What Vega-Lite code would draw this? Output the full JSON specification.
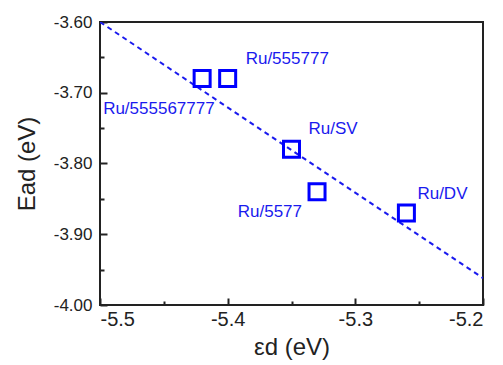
{
  "$schema": "https://vega.github.io/schema/vega-lite/v6.json",
  "width": 383,
  "height": 283,
  "autosize": "none",
  "padding": {"left": 100, "top": 22, "right": 20, "bottom": 60},
  "background": "white",
  "config": {
    "font": "Liberation Sans",
    "view": {"stroke": "#222222", "strokeWidth": 2},
    "axis": {
      "domain": false,
      "tickColor": "#222222",
      "tickWidth": 2,
      "tickCap": "butt",
      "grid": false,
      "offset": -7,
      "labelColor": "#222222",
      "titleColor": "#222222",
      "titleFontWeight": "normal",
      "titleFont": "Liberation Sans",
      "labelFont": "Liberation Sans"
    }
  },
  "datasets": {
    "pts": [
      {"name": "Ru/555567777", "ed": -5.42, "ead": -3.68},
      {"name": "Ru/555777", "ed": -5.40, "ead": -3.68},
      {"name": "Ru/SV", "ed": -5.35, "ead": -3.78},
      {"name": "Ru/5577", "ed": -5.33, "ead": -3.84},
      {"name": "Ru/DV", "ed": -5.26, "ead": -3.87}
    ],
    "fit": [
      {"ed": -5.5, "ead": -3.60},
      {"ed": -5.2, "ead": -3.962}
    ]
  },
  "encoding": {
    "x": {
      "field": "ed", "type": "quantitative",
      "scale": {"domain": [-5.5, -5.2], "nice": false, "zero": false},
      "axis": {
        "title": "εd (eV)",
        "titleFontSize": 24,
        "titlePadding": 6,
        "values": [-5.5, -5.45, -5.4, -5.35, -5.3, -5.25, -5.2],
        "labelExpr": "abs(round(datum.value*100)) % 10 == 0 ? replace(format(datum.value, '.1f'), '\u2212', '-') : ''",
        "labelFontSize": 20,
        "labelPadding": 4,
        "tickSize": 7,
        "tickDash": {"condition": {"test": "abs(round(datum.value*100)) % 10 == 0", "value": []}, "value": [0, 3, 4, 20]}
      }
    },
    "y": {
      "field": "ead", "type": "quantitative",
      "scale": {"domain": [-4.0, -3.6], "nice": false, "zero": false},
      "axis": {
        "title": "Ead (eV)",
        "titleFontSize": 24,
        "titlePadding": 14,
        "values": [-4.0, -3.95, -3.9, -3.85, -3.8, -3.75, -3.7, -3.65, -3.6],
        "labelExpr": "abs(round(datum.value*100)) % 10 == 0 ? replace(format(datum.value, '.2f'), '\u2212', '-') : ''",
        "labelFontSize": 17,
        "labelPadding": 8,
        "tickSize": 7,
        "tickDash": {"condition": {"test": "abs(round(datum.value*100)) % 10 == 0", "value": []}, "value": [0, 3, 4, 20]}
      }
    }
  },
  "layer": [
    {
      "data": {"name": "fit"},
      "mark": {"type": "line", "color": "#1a1aee", "strokeWidth": 2, "strokeDash": [5, 4], "clip": true}
    },
    {
      "data": {"name": "pts"},
      "mark": {"type": "point", "shape": "square", "filled": false, "color": "#0000ff", "strokeWidth": 3, "size": 256, "opacity": 1}
    },
    {
      "data": {"name": "pts"},
      "transform": [{"filter": "datum.name == 'Ru/555777'"}],
      "mark": {"type": "text", "align": "left", "baseline": "middle", "dx": 18, "dy": -20, "fontSize": 17, "color": "#1a1aee"},
      "encoding": {"text": {"field": "name"}}
    },
    {
      "data": {"name": "pts"},
      "transform": [{"filter": "datum.name == 'Ru/555567777'"}],
      "mark": {"type": "text", "align": "left", "baseline": "middle", "dx": -99, "dy": 30, "fontSize": 17, "color": "#1a1aee"},
      "encoding": {"text": {"field": "name"}}
    },
    {
      "data": {"name": "pts"},
      "transform": [{"filter": "datum.name == 'Ru/SV'"}],
      "mark": {"type": "text", "align": "left", "baseline": "middle", "dx": 17, "dy": -20, "fontSize": 17, "color": "#1a1aee"},
      "encoding": {"text": {"field": "name"}}
    },
    {
      "data": {"name": "pts"},
      "transform": [{"filter": "datum.name == 'Ru/5577'"}],
      "mark": {"type": "text", "align": "right", "baseline": "middle", "dx": -15, "dy": 20, "fontSize": 17, "color": "#1a1aee"},
      "encoding": {"text": {"field": "name"}}
    },
    {
      "data": {"name": "pts"},
      "transform": [{"filter": "datum.name == 'Ru/DV'"}],
      "mark": {"type": "text", "align": "left", "baseline": "middle", "dx": 11, "dy": -19, "fontSize": 17, "color": "#1a1aee"},
      "encoding": {"text": {"field": "name"}}
    }
  ]
}
